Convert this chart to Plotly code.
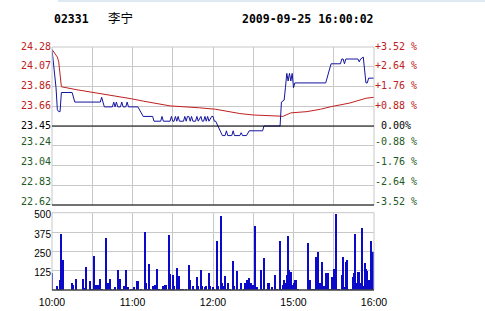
import plotly.graph_objects as go

# ---------------- data ----------------
stock_code = "02331"
stock_name = "李宁"
timestamp = "2009-09-25 16:00:02"
prev_close = 23.45

pct_levels = [3.52, 2.64, 1.76, 0.88, 0.00, -0.88, -1.76, -2.64, -3.52]
price_labels = ["24.28", "24.07", "23.86", "23.66", "23.45", "23.24", "23.04", "22.83", "22.62"]
pct_labels = ["+3.52 %", "+2.64 %", "+1.76 %", "+0.88 %", "\u00a00.00%",
              "-0.88 %", "-1.76 %", "-2.64 %", "-3.52 %"]

# trading minutes: 0 = 10:00, 150 = 12:30/14:30, 240 = 16:00
time_ticks = [0, 30, 60, 90, 120, 150, 180, 210, 240]
time_labels = ["10:00", "", "11:00", "", "12:00", "", "15:00", "", "16:00"]

vol_ticks = [125, 250, 375, 500]
vol_labels = ["125", "250", "375", "500"]

# last price (vertices of the blue line)
price_min = [0, 1, 2, 3, 4, 5, 6, 7, 15, 17, 36, 37, 39, 45, 46, 47, 48, 49, 51, 52, 53, 55,
             56, 57, 64, 68, 75, 76, 81, 82, 83, 88, 89, 90, 91, 92, 93, 94, 95, 98, 99, 100,
             101, 102, 103, 104, 105, 107, 108, 109, 111, 112, 113, 114, 115, 116, 117, 119,
             120, 121, 122, 125, 127, 129, 130, 131, 134, 135, 136, 140, 141, 142, 145, 147,
             157, 158, 170, 171, 173, 174, 175, 176, 177, 178, 179, 180, 181, 204, 206, 208,
             215, 216, 217, 218, 219, 228, 229, 230, 232, 234, 235, 236, 240]
price_val = [24.25, 24.12, 24.00, 23.85, 23.62, 23.60, 23.60, 23.80, 23.80, 23.70, 23.70,
             23.75, 23.65, 23.65, 23.70, 23.65, 23.70, 23.65, 23.65, 23.70, 23.65, 23.65,
             23.70, 23.65, 23.65, 23.55, 23.55, 23.50, 23.50, 23.55, 23.50, 23.50, 23.55,
             23.50, 23.50, 23.55, 23.50, 23.55, 23.50, 23.50, 23.55, 23.50, 23.55, 23.55,
             23.50, 23.55, 23.50, 23.50, 23.55, 23.50, 23.55, 23.50, 23.50, 23.55, 23.50,
             23.55, 23.50, 23.55, 23.55, 23.50, 23.50, 23.40, 23.35, 23.35, 23.40, 23.35,
             23.35, 23.40, 23.35, 23.35, 23.38, 23.35, 23.35, 23.40, 23.40, 23.45, 23.45,
             23.70, 23.72, 23.85, 24.00, 23.92, 24.00, 23.92, 24.00, 23.85, 23.90, 23.90,
             24.00, 24.10, 24.10, 24.15, 24.15, 24.10, 24.15, 24.15, 24.12, 24.15, 24.17,
             23.90, 23.90, 23.95, 23.95]

# average price (red line)
avg_min = [0, 2, 4, 5, 6, 7, 18, 36, 59, 68, 88, 110, 122, 140, 150, 170, 172, 178, 190,
           200, 208, 222, 234, 240]
avg_val = [24.25, 24.21, 24.17, 24.12, 23.98, 23.86, 23.83, 23.79, 23.735, 23.71, 23.66,
           23.64, 23.625, 23.58, 23.565, 23.553, 23.55, 23.587, 23.60, 23.625, 23.652,
           23.69, 23.74, 23.75]

# volume per minute
vol_min = [0, 4, 5, 6, 7, 8, 15, 16, 18, 23, 24, 25, 28, 30, 31, 32, 33, 34, 36, 37, 40, 41,
           42, 43, 44, 46, 47, 49, 50, 51, 52, 54, 55, 56, 57, 59, 60, 61, 63, 64, 66, 69, 70,
           71, 72, 73, 75, 76, 77, 78, 80, 82, 83, 84, 85, 87, 88, 89, 90, 91, 93, 95, 96, 97,
           98, 100, 102, 103, 105, 106, 108, 109, 111, 112, 114, 115, 117, 118, 120, 121, 123,
           124, 126, 127, 128, 129, 130, 131, 133, 135, 136, 138, 140, 141, 143, 144, 145, 146,
           147, 148, 150, 151, 152, 153, 156, 157, 158, 160, 161, 162, 164, 166, 167, 168, 170,
           171, 172, 173, 174, 175, 176, 177, 178, 179, 180, 181, 182, 183, 191, 192, 194, 195,
           197, 198, 200, 201, 203, 204, 205, 206, 207, 209, 210, 211, 212, 213, 214, 216, 217,
           218, 219, 220, 221, 223, 224, 225, 226, 227, 228, 229, 230, 231, 232, 233, 234, 235,
           236, 237, 238, 239, 240]
vol_val = [112, 26, 11, 65, 367, 194, 47, 32, 71, 71, 14, 151, 58, 11, 220, 32, 32, 32, 71, 11,
           339, 32, 49, 71, 11, 11, 19, 129, 11, 71, 11, 26, 134, 11, 19, 11, 11, 19, 58, 58, 11,
           377, 49, 11, 168, 11, 26, 11, 32, 140, 11, 11, 26, 32, 32, 356, 103, 11, 97, 26, 147,
           90, 11, 11, 11, 11, 162, 65, 26, 11, 86, 26, 129, 26, 19, 26, 112, 26, 19, 11, 317,
           26, 479, 49, 26, 90, 11, 49, 11, 188, 26, 125, 11, 49, 11, 49, 65, 26, 77, 49, 32,
           414, 11, 19, 129, 11, 211, 11, 49, 49, 19, 97, 11, 11, 319, 11, 32, 68, 49, 97, 351,
           129, 118, 32, 49, 65, 68, 11, 306, 65, 11, 11, 216, 248, 47, 183, 26, 112, 26, 112,
           11, 86, 140, 140, 492, 11, 11, 97, 216, 19, 183, 194, 11, 11, 86, 112, 367, 49, 118,
           118, 49, 403, 26, 177, 140, 125, 65, 49, 319, 248, 86]

# ---------------- styling ----------------
RED = "#c02020"
GREEN = "#1e5a1e"
BLUE = "#1414a0"
GRID = "#c8c8c8"
MONO = "DejaVu Sans Mono"
SANS = "Liberation Sans"


def colour_for(p):
    return RED if p > 0 else (GREEN if p < 0 else "#000000")


price_ticks = [prev_close * (1 + p / 100) for p in pct_levels]
y_range = [prev_close * (1 - pct_levels[0] / 100), prev_close * (1 + pct_levels[0] / 100)]

upper = [i for i, p in enumerate(pct_levels) if p >= 0]
lower = [i for i, p in enumerate(pct_levels) if p < 0]


def label_set(idx, labels):
    return ([price_ticks[i] for i in idx],
            [f'<span style="color:{colour_for(pct_levels[i])}">{labels[i]}</span>' for i in idx])


W, H = 485, 311
x_dom = [52 / W, 374 / W]
y_dom_price = [(H - 205) / H, (H - 47) / H]
y_dom_vol = [(H - 290) / H, (H - 212.7) / H]

fig = go.Figure()
fig.add_trace(go.Scatter(x=avg_min, y=avg_val, mode="lines", line=dict(color=RED, width=1),
                         xaxis="x", yaxis="y", hoverinfo="skip"))
fig.add_trace(go.Scatter(x=price_min, y=price_val, mode="lines", line=dict(color=BLUE, width=1),
                         xaxis="x", yaxis="y", hoverinfo="skip"))
fig.add_trace(go.Bar(x=vol_min, y=vol_val, width=0.72,
                     marker=dict(color="#0a0ac8", line=dict(width=0)),
                     xaxis="x2", yaxis="y2", hoverinfo="skip"))
# invisible traces that activate the extra label axes
for ax in ["y3", "y4", "y5"]:
    fig.add_trace(go.Scatter(x=[price_min[0]], y=[price_val[0]], mode="lines",
                             line=dict(width=0), xaxis="x", yaxis=ax, opacity=0,
                             showlegend=False, hoverinfo="skip"))

common_x = dict(range=[0, 240], tickmode="array", tickvals=time_ticks, showgrid=True,
                gridcolor=GRID, gridwidth=1, zeroline=False, showline=False, ticks="",
                domain=x_dom, fixedrange=True, automargin=False)

label_axis = dict(range=y_range, tickmode="array", zeroline=False, ticks="", showgrid=False,
                  showline=False, automargin=False,
                  tickfont=dict(family=MONO, size=10, color="#000000"), anchor="x")

lt_up_v, lt_up_t = label_set(upper, price_labels)
lt_lo_v, lt_lo_t = label_set(lower, price_labels)
rt_up_v, rt_up_t = label_set(upper, pct_labels)
rt_lo_v, rt_lo_t = label_set(lower, pct_labels)

fig.update_layout(
    template="none",
    width=W, height=H, margin=dict(l=0, r=0, t=0, b=0, pad=0, autoexpand=False), autosize=False,
    paper_bgcolor="white", plot_bgcolor="white", showlegend=False, bargap=0,
    xaxis=dict(common_x, anchor="y", showticklabels=False),
    xaxis2=dict(common_x, anchor="y2", ticktext=time_labels, showticklabels=True,
                ticklabelstandoff=4,
                tickfont=dict(family=SANS, size=10.5, color="#000000")),
    # grid lines + upper left labels
    yaxis=dict(label_axis, domain=y_dom_price, showgrid=True, gridcolor=GRID, gridwidth=1,
               tickvals=price_ticks,
               ticktext=[lt_up_t[upper.index(i)] if i in upper else "" for i in range(len(price_ticks))],
               ticklabelshift=-1),
    # lower left labels
    yaxis4=dict(label_axis, overlaying="y", side="left", tickvals=lt_lo_v, ticktext=lt_lo_t,
                ticklabelshift=-4),
    # right percent labels
    yaxis3=dict(label_axis, overlaying="y", side="right", tickvals=rt_up_v, ticktext=rt_up_t,
                ticklabelshift=-1),
    yaxis5=dict(label_axis, overlaying="y", side="right", tickvals=rt_lo_v, ticktext=rt_lo_t,
                ticklabelshift=-4),
    yaxis2=dict(domain=y_dom_vol, range=[0, 500], tickmode="array", tickvals=vol_ticks,
                ticktext=vol_labels, showgrid=True, gridcolor=GRID, gridwidth=1, zeroline=False,
                ticks="", showline=False, automargin=False, ticklabelshift=2,
                tickfont=dict(family=SANS, size=10, color="#000000"), anchor="x2"),
    shapes=[
        dict(type="rect", xref="x domain", yref="y domain", x0=0, x1=1, y0=0, y1=1,
             line=dict(color=GRID, width=1), layer="above"),
        dict(type="line", xref="x domain", yref="y", x0=0, x1=1, y0=prev_close, y1=prev_close,
             line=dict(color="#000000", width=1), layer="above"),
        dict(type="line", xref="x domain", yref="y domain", x0=0, x1=1, y0=0, y1=0,
             line=dict(color="#000000", width=1), layer="above"),
        dict(type="rect", xref="x2 domain", yref="y2 domain", x0=0, x1=1, y0=0, y1=1,
             line=dict(color=GRID, width=1), layer="above"),
        dict(type="line", xref="x2 domain", yref="y2 domain", x0=0, x1=1, y0=0, y1=0,
             line=dict(color="#000000", width=1), layer="above"),
        dict(type="line", xref="paper", yref="paper", x0=58 / W, x1=1, y0=1 - 1 / H, y1=1 - 1 / H,
             line=dict(color="#dfe9f1", width=2)),
    ],
    annotations=[
        dict(text=f"<b>{stock_code}</b>", x=52 / W, y=1 - 19 / H, xref="paper", yref="paper",
             xanchor="left", yanchor="middle", showarrow=False,
             font=dict(family=MONO, size=11.5, color="#000000")),
        dict(text=stock_name, x=106 / W, y=1 - 18 / H, xref="paper", yref="paper",
             xanchor="left", yanchor="middle", showarrow=False,
             font=dict(family="Noto Sans CJK SC", size=12.5, color="#000000")),
        dict(text=f"<b>{timestamp}</b>", x=240 / W, y=1 - 19 / H, xref="paper", yref="paper",
             xanchor="left", yanchor="middle", showarrow=False,
             font=dict(family=MONO, size=11.5, color="#000000")),
    ],
)

fig.write_html("out.html", config={"displayModeBar": False})
